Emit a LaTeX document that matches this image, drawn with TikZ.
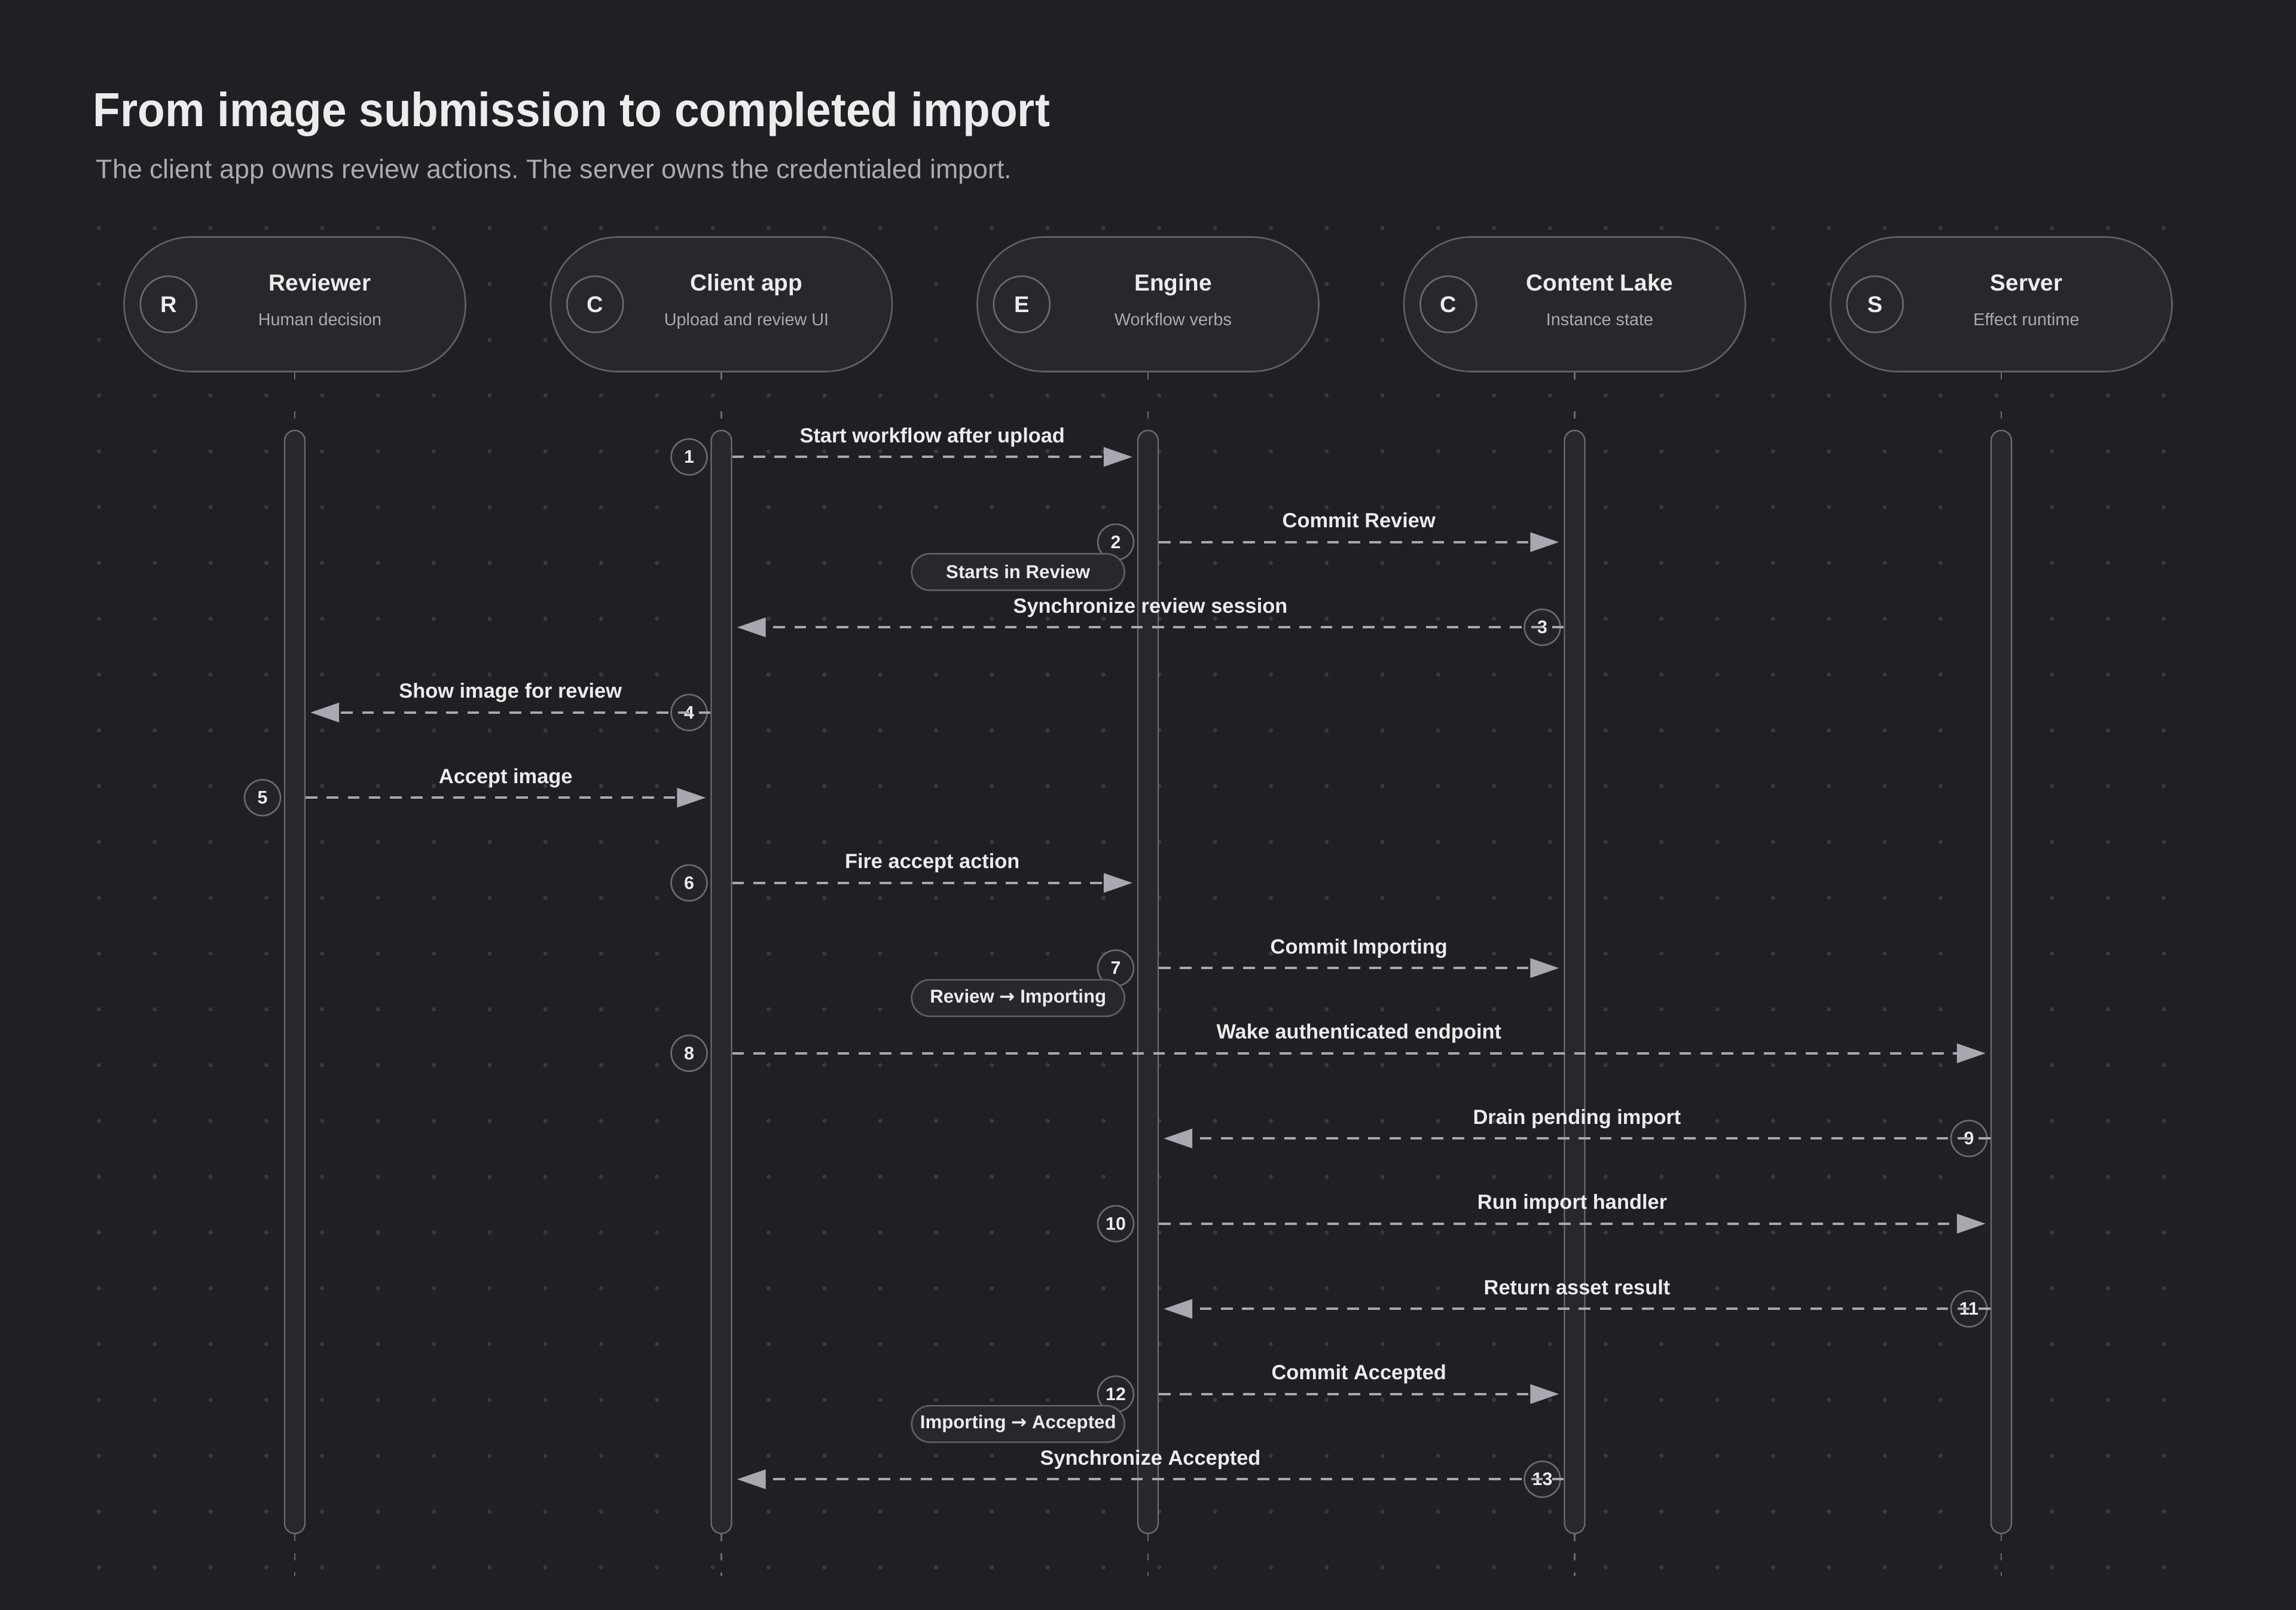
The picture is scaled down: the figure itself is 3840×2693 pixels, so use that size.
\documentclass[tikz,border=0pt]{standalone}
\usepackage{fontspec}
\usepackage{graphicx}
\setmainfont{Liberation Sans}
\newfontfamily\symfont{DejaVu Sans}
\usetikzlibrary{arrows.meta,positioning}
\frenchspacing

\definecolor{bgdark}{HTML}{1F2024}
\definecolor{griddot}{HTML}{393A3F}
\definecolor{pillfill}{HTML}{27282C}
\definecolor{badgefill}{HTML}{232428}
\definecolor{pilledge}{HTML}{606167}
\definecolor{lifeedge}{HTML}{6A6B71}
\definecolor{inkwhite}{HTML}{ECECEE}
\definecolor{inkgray}{HTML}{A9ABB1}
\definecolor{msgline}{HTML}{A8A9B0}

\tikzset{
  header/.style={draw=pilledge, line width=0.65pt, fill=pillfill, rounded corners=28pt,
    minimum width=142.75pt, minimum height=56.25pt, inner sep=0pt},
  headbadge/.style={circle, draw=lifeedge, line width=0.65pt, fill=pillfill, minimum size=23.5pt,
    inner sep=0pt, text=inkwhite, font=\bfseries\fontsize{9.5}{10}\selectfont},
  headtitle/.style={anchor=base, inner sep=0pt, text=inkwhite, font=\bfseries\fontsize{9.7}{11}\selectfont},
  headsub/.style={anchor=base, inner sep=0pt, text=inkgray, font=\fontsize{7.2}{8}\selectfont},
  actbox/.style={draw=lifeedge, line width=0.6pt, fill=pillfill, rounded corners=4.25pt,
    minimum width=8.5pt, minimum height=461.25pt, inner sep=0pt},
  lifedash/.style={draw=lifeedge, line width=0.6pt},
  msg/.style={draw=msgline, line width=1pt, dash pattern=on 4.9pt off 3.9pt,
    -{Triangle[length=12pt,width=8pt]}},
  msglabel/.style={midway, anchor=base, yshift=6pt, inner sep=0pt, text=inkwhite,
    font=\bfseries\fontsize{8.6}{10}\selectfont},
  stepbadge/.style={circle, draw=lifeedge, line width=0.65pt, fill=badgefill, minimum size=15pt,
    inner sep=0pt, text=inkwhite, font=\bfseries\fontsize{7.6}{8}\selectfont},
  statetag/.style={anchor=east, draw=pilledge, line width=0.65pt, fill=pillfill, rounded corners=7.6pt,
    minimum width=89pt, minimum height=15.25pt, inner sep=0pt, text=inkwhite,
    font=\bfseries\fontsize{7.8}{9}\selectfont},
}

\begin{document}
\begin{tikzpicture}[x=0.25pt, y=-0.25pt]
\useasboundingbox (0,0) rectangle (3840,2693);
\fill[bgdark] (0,0) rectangle (3840,2693);

% Dot grid
\foreach \i in {0,...,37}
  \foreach \j in {0,...,24}
    \fill[griddot] (165.5+93.33*\i, 381.7+93.33*\j) circle (0.9pt);

% Title
\node[anchor=base west, inner sep=0pt, text=inkwhite, font=\bfseries\fontsize{20}{24}\selectfont]
  (title) at (155,212) {\scalebox{0.935}[1]{From image submission to completed import}};
\node[anchor=base west, inner sep=0pt, text=inkgray, font=\fontsize{11.2}{13}\selectfont]
  (subtitle) at (160,299) {The client app owns review actions. The server owns the credentialed import.};

% Participants
\node[header] (rev)  at (493,509)  {};
\node[header] (app)  at (1206.5,509) {};
\node[header] (eng)  at (1920,509) {};
\node[header] (lake) at (2633.5,509) {};
\node[header] (srv)  at (3347,509) {};

\node[headbadge] (revB)  at ([xshift=18.9pt]rev.west)  {R};
\node[headbadge] (appB)  at ([xshift=18.9pt]app.west)  {C};
\node[headbadge] (engB)  at ([xshift=18.9pt]eng.west)  {E};
\node[headbadge] (lakeB) at ([xshift=18.9pt]lake.west) {C};
\node[headbadge] (srvB)  at ([xshift=18.9pt]srv.west)  {S};

\node[headtitle] at ([xshift=10.5pt, yshift=5.5pt]rev.center)  {Reviewer};
\node[headtitle] at ([xshift=10.5pt, yshift=5.5pt]app.center)  {Client app};
\node[headtitle] at ([xshift=10.5pt, yshift=5.5pt]eng.center)  {Engine};
\node[headtitle] at ([xshift=10.5pt, yshift=5.5pt]lake.center) {Content Lake};
\node[headtitle] at ([xshift=10.5pt, yshift=5.5pt]srv.center)  {Server};

\node[headsub] at ([xshift=10.5pt, yshift=-9pt]rev.center)  {Human decision};
\node[headsub] at ([xshift=10.5pt, yshift=-9pt]app.center)  {Upload and review UI};
\node[headsub] at ([xshift=10.5pt, yshift=-9pt]eng.center)  {Workflow verbs};
\node[headsub] at ([xshift=10.5pt, yshift=-9pt]lake.center) {Instance state};
\node[headsub] at ([xshift=10.5pt, yshift=-9pt]srv.center)  {Effect runtime};

% Lifelines
\node[actbox] (revL)  at (493,1642.5)    {};
\node[actbox] (appL)  at (1206.5,1642.5) {};
\node[actbox] (engL)  at (1920,1642.5)   {};
\node[actbox] (lakeL) at (2633.5,1642.5) {};
\node[actbox] (srvL)  at (3347,1642.5)   {};

\draw[lifedash, dash pattern=on 3pt off 13.25pt] (rev.south)  -- (revL.north);
\draw[lifedash, dash pattern=on 3pt off 13.25pt] (app.south)  -- (appL.north);
\draw[lifedash, dash pattern=on 3pt off 13.25pt] (eng.south)  -- (engL.north);
\draw[lifedash, dash pattern=on 3pt off 13.25pt] (lake.south) -- (lakeL.north);
\draw[lifedash, dash pattern=on 3pt off 13.25pt] (srv.south)  -- (srvL.north);

\coordinate (bot) at (0,2636);
\draw[lifedash, dash pattern=on 3pt off 5pt] (revL.south)  -- (revL.south |- bot);
\draw[lifedash, dash pattern=on 3pt off 5pt] (appL.south)  -- (appL.south |- bot);
\draw[lifedash, dash pattern=on 3pt off 5pt] (engL.south)  -- (engL.south |- bot);
\draw[lifedash, dash pattern=on 3pt off 5pt] (lakeL.south) -- (lakeL.south |- bot);
\draw[lifedash, dash pattern=on 3pt off 5pt] (srvL.south)  -- (srvL.south |- bot);

% Message rows
\coordinate (m1)  at (0,764.3);
\coordinate (m2)  at (0,906.8);
\coordinate (m3)  at (0,1049.3);
\coordinate (m4)  at (0,1191.8);
\coordinate (m5)  at (0,1334.3);
\coordinate (m6)  at (0,1476.8);
\coordinate (m7)  at (0,1619.3);
\coordinate (m8)  at (0,1761.8);
\coordinate (m9)  at (0,1904.3);
\coordinate (m10) at (0,2046.8);
\coordinate (m11) at (0,2189.3);
\coordinate (m12) at (0,2331.8);
\coordinate (m13) at (0,2474.3);

% Step numbers
\node[stepbadge] (n1)  at ([xshift=-13.5pt]appL.center |- m1)   {1};
\node[stepbadge] (n2)  at ([xshift=-13.5pt]engL.center |- m2)   {2};
\node[stepbadge] (n3)  at ([xshift=-13.5pt]lakeL.center |- m3)  {3};
\node[stepbadge] (n4)  at ([xshift=-13.5pt]appL.center |- m4)   {4};
\node[stepbadge] (n5)  at ([xshift=-13.5pt]revL.center |- m5)   {5};
\node[stepbadge] (n6)  at ([xshift=-13.5pt]appL.center |- m6)   {6};
\node[stepbadge] (n7)  at ([xshift=-13.5pt]engL.center |- m7)   {7};
\node[stepbadge] (n8)  at ([xshift=-13.5pt]appL.center |- m8)   {8};
\node[stepbadge] (n9)  at ([xshift=-13.5pt]srvL.center |- m9)   {9};
\node[stepbadge] (n10) at ([xshift=-13.5pt]engL.center |- m10)  {10};
\node[stepbadge] (n11) at ([xshift=-13.5pt]srvL.center |- m11)  {11};
\node[stepbadge] (n12) at ([xshift=-13.5pt]engL.center |- m12)  {12};
\node[stepbadge] (n13) at ([xshift=-13.5pt]lakeL.center |- m13) {13};

% State tags
\node[statetag] (t2)  at ([xshift=-9.5pt, yshift=-12.5pt]engL.center |- m2)  {Starts in Review};
\node[statetag] (t7)  at ([xshift=-9.5pt, yshift=-12.5pt]engL.center |- m7)  {Review {\symfont →} Importing};
\node[statetag] (t12) at ([xshift=-9.5pt, yshift=-12.5pt]engL.center |- m12) {Importing {\symfont →} Accepted};

% Messages
\draw[msg] (appL.east |- m1) -- ([xshift=-2pt]engL.west |- m1) node[msglabel] {Start workflow after upload};
\draw[msg] (engL.east |- m2) -- ([xshift=-2pt]lakeL.west |- m2) node[msglabel] {Commit Review};
\draw[msg] (lakeL.west |- m3) -- ([xshift=2pt]appL.east |- m3) node[msglabel] {Synchronize review session};
\draw[msg] (appL.west |- m4) -- ([xshift=2pt]revL.east |- m4) node[msglabel] {Show image for review};
\draw[msg] (revL.east |- m5) -- ([xshift=-2pt]appL.west |- m5) node[msglabel] {Accept image};
\draw[msg] (appL.east |- m6) -- ([xshift=-2pt]engL.west |- m6) node[msglabel] {Fire accept action};
\draw[msg] (engL.east |- m7) -- ([xshift=-2pt]lakeL.west |- m7) node[msglabel] {Commit Importing};
\draw[msg] (appL.east |- m8) -- ([xshift=-2pt]srvL.west |- m8) node[msglabel] {Wake authenticated endpoint};
\draw[msg] (srvL.west |- m9) -- ([xshift=2pt]engL.east |- m9) node[msglabel] {Drain pending import};
\draw[msg] (engL.east |- m10) -- ([xshift=-2pt]srvL.west |- m10) node[msglabel] {Run import handler};
\draw[msg] (srvL.west |- m11) -- ([xshift=2pt]engL.east |- m11) node[msglabel] {Return asset result};
\draw[msg] (engL.east |- m12) -- ([xshift=-2pt]lakeL.west |- m12) node[msglabel] {Commit Accepted};
\draw[msg] (lakeL.west |- m13) -- ([xshift=2pt]appL.east |- m13) node[msglabel] {Synchronize Accepted};
\end{tikzpicture}
\end{document}
